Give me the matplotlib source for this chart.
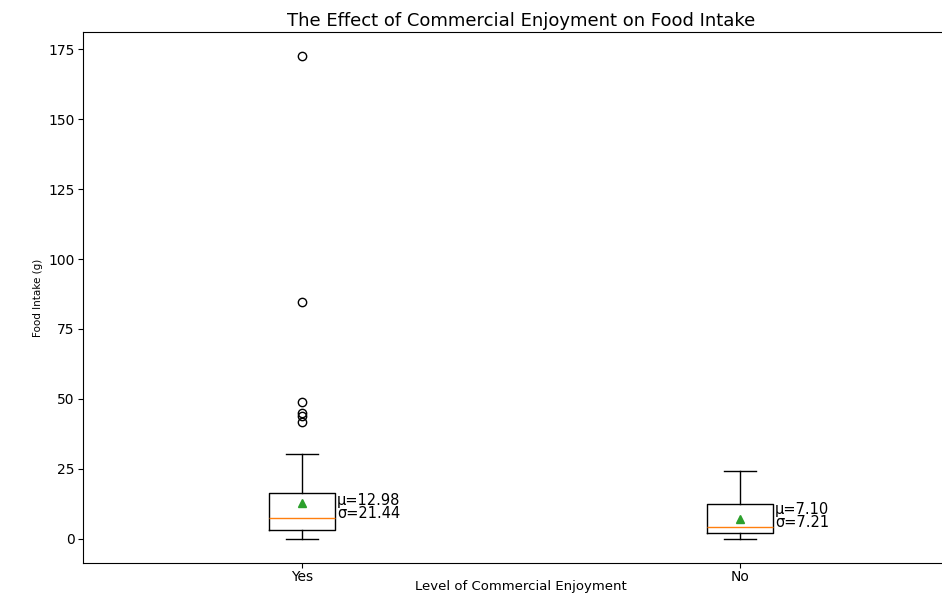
import matplotlib
matplotlib.use("Agg")
import matplotlib.pyplot as plt

# summary values per group
groups = ["Yes", "No"]
medians = [7.4, 4.3]
q1s = [3.2, 2.0]
q3s = [16.3, 12.4]
whis_lo = [0.0, 0.0]
whis_hi = [30.4, 24.3]
means = [12.98, 7.10]
stds = [21.44, 7.21]
fliers_yes = [41.9, 43.9, 44.9, 48.8, 84.8, 172.5]
fliers_no = []
fliers = [fliers_yes, fliers_no]

stats = []
for i, g in enumerate(groups):
    stats.append({
        "label": g,
        "med": medians[i],
        "q1": q1s[i],
        "q3": q3s[i],
        "whislo": whis_lo[i],
        "whishi": whis_hi[i],
        "mean": means[i],
        "fliers": fliers[i],
    })

fig = plt.figure(figsize=(9.42, 5.94), dpi=100)
ax = fig.add_axes([0.0881, 0.0522, 0.930, 0.8939])

ax.bxp(stats, showmeans=True)

# mean / std labels next to each box
for i in range(len(groups)):
    ax.text(i + 1 + 0.08, medians[i], f"μ={means[i]:.2f}\nσ={stds[i]:.2f}",
            fontsize=10.5, linespacing=0.85)

ax.set_title("The Effect of Commercial Enjoyment on Food Intake", fontsize=13, pad=4)
ax.set_xlabel("Level of Commercial Enjoyment", fontsize=9.5, labelpad=-3)
ax.set_ylabel("Food Intake (g)", fontsize=7.5)
ax.tick_params(labelsize=10, pad=2.5)
ax.tick_params(axis="x", pad=1.5)

fig.savefig("out.png", dpi=100)
